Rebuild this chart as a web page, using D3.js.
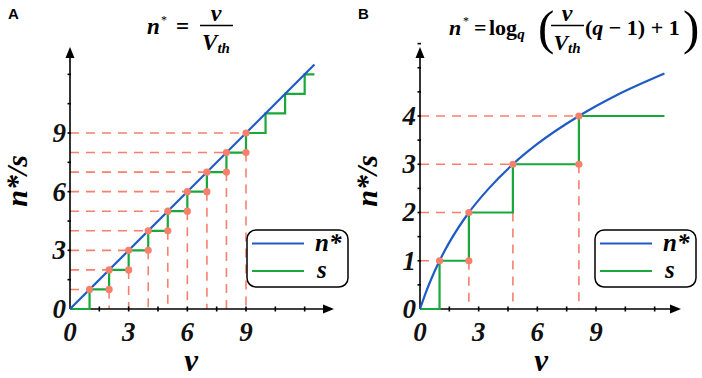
<!DOCTYPE html>
<html>
<head>
<meta charset="utf-8">
<script src="https://cdn.jsdelivr.net/npm/d3@7"></script>
<style>
  body { margin: 0; background: #fff; }
</style>
</head>
<body>
<svg id="fig" width="702" height="378"></svg>
<script>
// ---- data ----
// panel A : n* = v / Vth  (linear)
const lineA_v = [0, 12.5];
const lineA_n = [0, 12.5];
const stepA_v = [0, 1, 2, 3, 4, 5, 6, 7, 8, 9, 10, 11, 12, 12.5];
const stepA_s = [0, 1, 2, 3, 4, 5, 6, 7, 8, 9, 10, 11, 12, 12];
const guideA_v = [1, 2, 3, 4, 5, 6, 7, 8, 9];
const guideA_s = [1, 2, 3, 4, 5, 6, 7, 8, 9];
const dotsA_v = [1, 2, 3, 4, 5, 6, 7, 8, 9, 2, 3, 4, 5, 6, 7, 8, 9];
const dotsA_s = [1, 2, 3, 4, 5, 6, 7, 8, 9, 1, 2, 3, 4, 5, 6, 7, 8];
const ticksA_x = ["0", "3", "6", "9"];
const ticksA_y = ["0", "3", "6", "9"];

// panel B : n* = log_q(v/Vth (q-1) + 1)
const curveB_v = [0, 0.25, 0.5, 1, 1.5, 2.5, 3.5, 4.75, 6, 8.125, 10, 12.5];
const curveB_n = [0, 0.29, 0.55, 1, 1.38, 2, 2.49, 3, 3.42, 4, 4.42, 4.88];
const stepB_v = [0, 1, 2.5, 4.75, 8.125, 12.5];
const stepB_s = [0, 1, 2, 3, 4, 4];
const guideB_v = [1, 2.5, 4.75, 8.125];
const guideB_s = [1, 2, 3, 4];
const dotsB_v = [1, 2.5, 2.5, 4.75, 8.125, 8.125];
const dotsB_s = [1, 1, 2, 3, 3, 4];
const ticksB_x = ["0", "3", "6", "9"];
const ticksB_y = ["0", "1", "2", "3", "4"];

const BLUE = "#1f5bc4", GREEN = "#19a83a", SALMON = "#f7806c";
const SERIF = "'Liberation Serif', 'Times New Roman', serif";

const svg = d3.select("#fig").style("font-family", SERIF);

function drawPanel(o) {
  const g = svg.append("g");
  const x = d3.scaleLinear().domain([0, 9]).range([o.x0, o.x0 + 176]);
  const y = d3.scaleLinear().domain([0, o.yTop]).range([309, o.yTopPx]);

  // dashed guide lines
  const dash = g.append("g").attr("stroke", SALMON).attr("stroke-width", 1.6)
    .attr("stroke-dasharray", "9,7").attr("fill", "none");
  o.guideV.forEach((v, i) => {
    const s = o.guideS[i];
    dash.append("line").attr("x1", x(0)).attr("x2", x(v)).attr("y1", y(s)).attr("y2", y(s));
    if (i > 0)
      dash.append("line").attr("x1", x(v)).attr("x2", x(v)).attr("y1", y(s - 1)).attr("y2", y(0));
  });

  // axes with arrows
  const ax = g.append("g").attr("stroke", "#000").attr("stroke-width", 1.6);
  ax.append("line").attr("x1", x(0)).attr("x2", o.xEnd - 8).attr("y1", y(0)).attr("y2", y(0));
  ax.append("line").attr("x1", x(0)).attr("x2", x(0)).attr("y1", y(0)).attr("y2", 56);
  g.append("path").attr("d", `M${o.xEnd},${y(0)} l-11,-4.5 l0,9 z`).attr("fill", "#000");
  g.append("path").attr("d", `M${x(0)},47 l-4.5,11 l9,0 z`).attr("fill", "#000");

  d3.range(1.5, 12.01, 1.5).forEach(t => {
    ax.append("line").attr("x1", x(t)).attr("x2", x(t)).attr("y1", y(0) - 2.5).attr("y2", y(0) + 2.5);
  });
  d3.range(o.yStep, o.yTop * 1.46, o.yStep).forEach(t => {
    ax.append("line").attr("x1", x(0) - 2.5).attr("x2", x(0) + 1).attr("y1", y(t)).attr("y2", y(t));
  });

  // tick labels
  const tf = g.append("g").attr("font-weight", "bold").attr("font-style", "italic")
    .attr("font-size", 27).attr("fill", "#111");
  o.ticksX.forEach(t => {
    tf.append("text").attr("x", x(+t)).attr("y", 341).attr("text-anchor", "middle").text(t);
  });
  o.ticksY.forEach(t => {
    tf.append("text").attr("x", x(0) - 4).attr("y", y(+t)).attr("dy", "0.33em")
      .attr("text-anchor", "end").text(t);
  });

  // series
  const stepLine = d3.line().x(d => x(d[0])).y(d => y(d[1])).curve(d3.curveStepAfter);
  g.append("path").datum(o.stepV.map((v, i) => [v, o.stepS[i]]))
    .attr("d", stepLine).attr("fill", "none").attr("stroke", GREEN).attr("stroke-width", 2.2);

  const blueLine = d3.line().x(d => x(d[0])).y(d => y(d[1])).curve(d3.curveMonotoneX);
  g.append("path").datum(o.blueV.map((v, i) => [v, o.blueN[i]]))
    .attr("d", blueLine).attr("fill", "none").attr("stroke", BLUE).attr("stroke-width", 2.2);

  g.selectAll(".dot").data(o.dotV.map((v, i) => [v, o.dotS[i]])).enter()
    .append("circle").attr("class", "dot")
    .attr("cx", d => x(d[0])).attr("cy", d => y(d[1])).attr("r", 3.6).attr("fill", SALMON);

  // axis titles
  g.append("text").attr("x", x(6.2)).attr("y", 371).attr("text-anchor", "middle")
    .attr("font-size", 31).attr("font-weight", "bold").attr("font-style", "italic").text("v");
  g.append("text").attr("transform", `translate(${o.x0 - 43},181) rotate(-90)`)
    .attr("text-anchor", "middle").attr("font-size", 30).attr("font-weight", "bold")
    .attr("font-style", "italic").text("n*/s");

  // legend
  const lg = g.append("g").attr("transform", `translate(${o.legX},230)`);
  lg.append("rect").attr("width", 101).attr("height", 57).attr("rx", 9)
    .attr("fill", "#fff").attr("stroke", "#000").attr("stroke-width", 1.5);
  lg.append("line").attr("x1", 5).attr("x2", 57).attr("y1", 13.5).attr("y2", 13.5)
    .attr("stroke", BLUE).attr("stroke-width", 2.2);
  lg.append("line").attr("x1", 5).attr("x2", 57).attr("y1", 41).attr("y2", 41)
    .attr("stroke", GREEN).attr("stroke-width", 2.2);
  const lt = lg.append("g").attr("font-size", 25).attr("font-weight", "bold").attr("font-style", "italic");
  lt.append("text").attr("x", 68).attr("y", 21).text("n*");
  lt.append("text").attr("x", 70).attr("y", 48).text("s");

  // panel letter
  g.append("text").attr("x", o.x0 - 62).attr("y", 19)
    .style("font-family", "'Liberation Sans', Arial, sans-serif")
    .attr("font-size", 15).attr("font-weight", "bold").text(o.letter);
}

drawPanel({
  letter: "A", x0: 70, yTop: 9, yTopPx: 133, yStep: 1.5, xEnd: 334, legX: 247,
  guideV: guideA_v, guideS: guideA_s, stepV: stepA_v, stepS: stepA_s,
  blueV: lineA_v, blueN: lineA_n, dotV: dotsA_v, dotS: dotsA_s,
  ticksX: ticksA_x, ticksY: ticksA_y
});
drawPanel({
  letter: "B", x0: 420, yTop: 4, yTopPx: 116, yStep: 0.5, xEnd: 681, legX: 595,
  guideV: guideB_v, guideS: guideB_s, stepV: stepB_v, stepS: stepB_s,
  blueV: curveB_v, blueN: curveB_n, dotV: dotsB_v, dotS: dotsB_s,
  ticksX: ticksB_x, ticksY: ticksB_y
});

// ---- formulas ----
function frac(parent, cx) {
  parent.append("text").attr("x", cx).attr("y", 21).attr("text-anchor", "middle")
    .attr("font-size", 24).attr("font-style", "italic").text("v");
  parent.append("line").attr("x1", cx - 16).attr("x2", cx + 17).attr("y1", 25.5).attr("y2", 25.5)
    .attr("stroke", "#000").attr("stroke-width", 1.6);
  const d = parent.append("text").attr("x", cx).attr("y", 50).attr("text-anchor", "middle")
    .attr("font-style", "italic");
  d.append("tspan").text("V");
  d.append("tspan").attr("font-size", 15).attr("dy", 3).text("th");
}
function lhs(parent, xn, y, eqDx) {
  parent.append("text").attr("x", xn).attr("y", y).attr("font-style", "italic").text("n");
  parent.append("text").attr("x", xn + 14).attr("y", y - 10).attr("font-size", 12)
    .attr("font-weight", "normal").text("*");
  parent.append("text").attr("x", xn + eqDx).attr("y", y).text("=");
}

const fA = svg.append("g").attr("font-size", 23).attr("font-weight", "bold");
lhs(fA, 147, 34, 29);
frac(fA, 216);

const fB = svg.append("g").attr("font-size", 22).attr("font-weight", "bold");
lhs(fB, 449, 35, 25);
const lg = fB.append("text").attr("x", 489).attr("y", 35);
lg.append("tspan").text("log");
lg.append("tspan").attr("font-size", 15).attr("font-style", "italic").attr("dy", 4).text("q");
fB.append("text").attr("x", 538).attr("y", 44).attr("font-size", 49).attr("font-weight", "normal").text("(");
frac(fB, 567);
const rest = fB.append("text").attr("x", 585).attr("y", 35);
rest.append("tspan").text("(");
rest.append("tspan").attr("font-style", "italic").text("q");
rest.append("tspan").text(" \u2212 1) + 1");
fB.append("text").attr("x", 683).attr("y", 44).attr("font-size", 49).attr("font-weight", "normal").text(")");
</script>
</body>
</html>
